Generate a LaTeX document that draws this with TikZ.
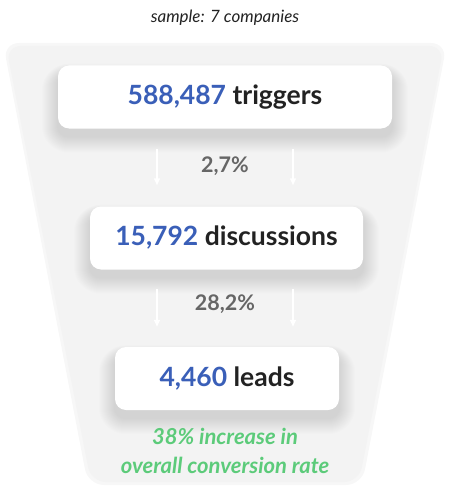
\documentclass[tikz,border=0pt]{standalone}
\usepackage{fontspec}
\setmainfont{Lato}
\usetikzlibrary{calc,arrows.meta}
\definecolor{numblue}{HTML}{3A5FB8}
\definecolor{txtdark}{HTML}{222222}
\definecolor{pctgrey}{HTML}{666666}
\definecolor{greenok}{HTML}{5CCB7A}
\definecolor{funnelbg}{HTML}{F3F3F3}
\pgfdeclarelayer{back}
\pgfdeclarelayer{shade}
\pgfsetlayers{back,shade,main}
\begin{document}
\begin{tikzpicture}[x=1pt,y=-1pt,
  stagebox/.style={fill=white, rounded corners=11pt, inner sep=0pt,
    font=\fontsize{26.5}{30}\selectfont\bfseries, text=txtdark},
  pct/.style={font=\fontsize{21.5}{24}\selectfont\bfseries, text=pctgrey},
  softshade/.style={fill=black, opacity=0.009},
  flow/.style={draw=white, line width=1.4pt, -{Triangle[length=7pt,width=6pt]}}]
\useasboundingbox (0,0) rectangle (450,500);
\node[font=\fontsize{17}{20}\selectfont\itshape, text=txtdark] (sample) at (225,18) {sample: 7 companies};
\node[stagebox, minimum width=334pt, minimum height=63pt] (b1) at (225,97) {\textcolor{numblue}{588,487} triggers};
\node[stagebox, minimum width=273pt, minimum height=63pt] (b2) at (226.5,238) {\textcolor{numblue}{15,792} discussions};
\node[stagebox, minimum width=224pt, minimum height=63pt] (b3) at (227,378.5) {\textcolor{numblue}{4,460} leads};
\node[pct] (p1) at (225,166) {2,7\%};
\node[pct] (p2) at (225,304) {28,2\%};
\draw[flow] ($(b1.south)+(-68,20)$) -- ($(b2.north)+(-69.5,-21)$);
\draw[flow] ($(b1.south)+(68,20)$) -- ($(b2.north)+(66.5,-21)$);
\draw[flow] ($(b2.south)+(-69.5,19)$) -- ($(b3.north)+(-70,-20)$);
\draw[flow] ($(b2.south)+(66.5,19)$) -- ($(b3.north)+(66,-20)$);
\node[font=\fontsize{22}{29}\selectfont\bfseries\itshape, text=greenok, align=center] (gain) at (225,451) {38\% increase in\\overall conversion rate};
% funnel background
\begin{pgfonlayer}{back}
\fill[funnelbg!70!white, rounded corners=16pt] (3,43) -- (447,43) -- (362,485) -- (88,485) -- cycle;
\fill[funnelbg, rounded corners=15pt] (6,46) -- (444,46) -- (359,482) -- (91,482) -- cycle;
\end{pgfonlayer}
% soft shadows under the boxes
\begin{pgfonlayer}{shade}
\foreach \b in {b1,b2,b3}{
  \foreach \i [evaluate=\i as \r using 11+\i] in {1,...,16}{
    \fill[softshade, rounded corners=\r pt] ($(\b.north west)+(-\i,8-0.6*\i)$) rectangle ($(\b.south east)+(\i,8+\i)$);
  }
}
\end{pgfonlayer}
\end{tikzpicture}
\end{document}
